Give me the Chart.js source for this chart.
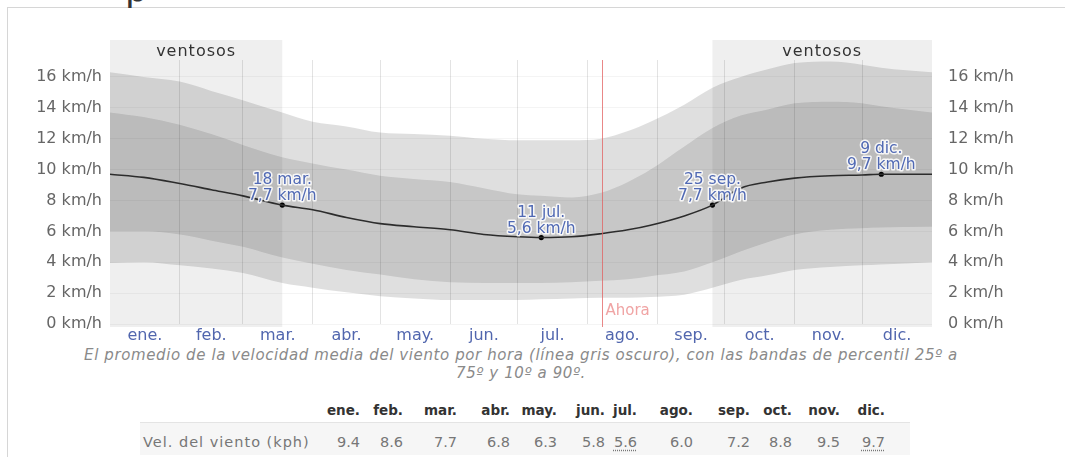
<!DOCTYPE html>
<html>
<head>
<meta charset="utf-8">
<script src="https://cdn.jsdelivr.net/npm/chart.js@4/dist/chart.umd.min.js"></script>
<style>
  html, body { margin:0; padding:0; background:#fff; }
  body { width:1065px; height:457px; position:relative; overflow:hidden; font-family:'DejaVu Sans', sans-serif; }
  #frame { position:absolute; left:7px; top:7px; right:-2px; bottom:-2px; border-left:1px solid #d6d6d6; border-top:1px solid #d6d6d6; }
  #cut { position:absolute; left:125px; top:-29.5px; font:36px/36px 'DejaVu Sans'; color:#333; }
  #c { position:absolute; left:0; top:0; }
  #caption { position:absolute; left:0; width:1042px; top:346px; text-align:center; font-style:italic; font-size:15px; letter-spacing:0.6px; line-height:18px; color:#8a8a8a; }
  .t { position:absolute; white-space:nowrap; line-height:18px; }
</style>
</head>
<body>
<div id="frame"></div>
<div id="cut">p</div>
<canvas id="c" width="1065" height="345"></canvas>
<div id="caption">El promedio de la velocidad media del viento por hora (línea gris oscuro), con las bandas de percentil 25º a<br>75º y 10º a 90º.</div>
<div id="tbl"></div>
<script>
// ---- data (day of year, km/h) ----
const days      = [0, 15, 31, 45, 59, 76.5, 90, 105, 120, 135, 151, 166, 181, 191.5, 205, 218, 230, 240, 255, 267.5, 280, 292, 304, 320, 334, 342.5, 365];
const p90       = [16.3, 16.0, 15.7, 15.1, 14.5, 13.7, 13.1, 12.8, 12.4, 12.3, 12.2, 12.0, 11.9, 11.9, 11.9, 12.0, 12.5, 13.1, 14.2, 15.3, 16.0, 16.5, 16.9, 17.0, 16.8, 16.6, 16.3];
const p75       = [13.7, 13.4, 12.9, 12.3, 11.6, 10.8, 10.4, 10.0, 9.6, 9.4, 9.2, 8.8, 8.4, 8.3, 8.2, 8.5, 9.2, 10.0, 11.5, 12.7, 13.5, 13.9, 14.3, 14.4, 14.3, 14.1, 13.7];
const meanSpeed = [9.7, 9.5, 9.1, 8.7, 8.3, 7.7, 7.4, 6.9, 6.5, 6.3, 6.1, 5.8, 5.65, 5.6, 5.65, 5.85, 6.1, 6.4, 7.0, 7.7, 8.8, 9.2, 9.45, 9.6, 9.65, 9.7, 9.7];
const p25       = [6.0, 6.0, 5.8, 5.4, 5.0, 4.3, 3.9, 3.5, 3.2, 2.9, 2.7, 2.65, 2.65, 2.65, 2.7, 2.8, 2.9, 3.1, 3.4, 4.0, 4.7, 5.3, 5.8, 6.1, 6.2, 6.25, 6.3];
const p10       = [3.95, 4.0, 3.8, 3.6, 3.3, 2.65, 2.35, 2.05, 1.8, 1.65, 1.55, 1.55, 1.55, 1.6, 1.65, 1.7, 1.7, 1.75, 1.9, 2.35, 2.85, 3.15, 3.5, 3.7, 3.8, 3.85, 4.0];

const monthLabels  = ['ene.','feb.','mar.','abr.','may.','jun.','jul.','ago.','sep.','oct.','nov.','dic.'];
const monthStarts  = [0, 31, 59, 90, 120, 151, 181, 212, 243, 273, 304, 334, 365];
const monthlyMean  = [9.4, 8.6, 7.7, 6.8, 6.3, 5.8, 5.6, 6.0, 7.2, 8.8, 9.5, 9.7];
const yTicks       = [0, 2, 4, 6, 8, 10, 12, 14, 16];
const windyPeriods = [[0, 76.5], [267.5, 365]];
const nowDay       = 218.5;
const hlDays       = [76.5, 191.5, 267.5, 342.5];
const hlValues     = [7.7, 5.6, 7.7, 9.7];
const hlDates      = ['18 mar.', '11 jul.', '25 sep.', '9 dic.'];
const rowLabel     = 'Vel. del viento (kph)';

// ---- layout (not data) ----
const colRight = [360, 403, 457, 510, 557, 605, 637, 693, 750, 792, 840, 885];

const pts = arr => days.map((d, i) => ({x: d, y: arr[i]}));
const mids = monthLabels.map((_, i) => (monthStarts[i] + monthStarts[i + 1]) / 2);
const bounds = monthStarts.slice(1, -1);
const FONT = "'DejaVu Sans'";

const deco = {
  id: 'deco',
  beforeDraw(chart) {
    const {ctx, chartArea: a, scales: {x}} = chart;
    ctx.save();
    windyPeriods.forEach(([s, e]) => {
      const x0 = x.getPixelForValue(s), x1 = x.getPixelForValue(e);
      ctx.fillStyle = 'rgba(0,0,0,0.062)';
      ctx.fillRect(x0, a.top - 20, x1 - x0, a.bottom + 3 - (a.top - 20));
      ctx.fillStyle = '#333';
      ctx.font = '16px ' + FONT;
      ctx.letterSpacing = '1px';
      ctx.textAlign = 'center';
      ctx.textBaseline = 'middle';
      ctx.fillText('ventosos', (x0 + x1) / 2, a.top - 8);
      ctx.letterSpacing = '0px';
    });
    ctx.restore();
  },
  afterDatasetsDraw(chart) {
    const {ctx, chartArea: a, scales: {x, y}} = chart;
    ctx.save();
    const nx = Math.round(x.getPixelForValue(nowDay)) + 0.5;
    ctx.strokeStyle = 'rgba(225,95,95,0.75)';
    ctx.lineWidth = 1;
    ctx.beginPath(); ctx.moveTo(nx, a.top); ctx.lineTo(nx, a.bottom + 3); ctx.stroke();
    ctx.fillStyle = '#f0a4a4';
    ctx.font = '15px ' + FONT;
    ctx.textAlign = 'left'; ctx.textBaseline = 'middle';
    ctx.fillText('Ahora', nx + 3, a.bottom - 13);

    ctx.font = '15.5px ' + FONT;
    ctx.textAlign = 'center';
    ctx.lineJoin = 'round';
    hlDays.forEach((d, i) => {
      const px = x.getPixelForValue(d), py = y.getPixelForValue(hlValues[i]);
      const lines = [hlDates[i], hlValues[i].toFixed(1).replace('.', ',') + ' km/h'];
      lines.forEach((t, j) => {
        const ty = py - 25 + j * 16;
        ctx.strokeStyle = 'rgba(255,255,255,0.85)';
        ctx.lineWidth = 3;
        ctx.strokeText(t, px, ty);
        ctx.fillStyle = '#5069b4';
        ctx.fillText(t, px, ty);
      });
    });
    ctx.restore();
  }
};

const band = (data, fill, color) => ({
  data: pts(data), fill: fill, backgroundColor: color || 'transparent',
  borderWidth: 0, borderColor: 'transparent', pointRadius: 0,
  cubicInterpolationMode: 'monotone'
});

new Chart(document.getElementById('c'), {
  type: 'line',
  data: {
    datasets: [
      band(p10, false),
      band(p90, '-1', 'rgba(0,0,0,0.125)'),
      band(p25, false),
      band(p75, '-1', 'rgba(0,0,0,0.11)'),
      { data: pts(meanSpeed), borderColor: '#3a3a3a', borderWidth: 1.6, pointRadius: 0,
        fill: false, cubicInterpolationMode: 'monotone' },
      { data: hlDays.map((d, i) => ({x: d, y: hlValues[i]})), showLine: false,
        pointRadius: 2.6, pointBackgroundColor: '#000', pointBorderWidth: 0 }
    ]
  },
  options: {
    responsive: false, animation: false, devicePixelRatio: 1,
    layout: { padding: { top: 60, left: 0, right: 0, bottom: 0 } },
    plugins: { legend: { display: false }, tooltip: { enabled: false } },
    scales: {
      x: {
        type: 'linear', min: 0, max: 365,
        afterBuildTicks: ax => { ax.ticks = [...bounds, ...mids].sort((a, b) => a - b).map(v => ({value: v})); },
        afterFit: s => { s.height = 21; },
        ticks: {
          autoSkip: false, maxRotation: 0, padding: 2, color: '#5166ae',
          font: { family: 'DejaVu Sans', size: 16 },
          callback: v => { const i = mids.indexOf(v); return i >= 0 ? monthLabels[i] : ''; }
        },
        grid: {
          drawTicks: false,
          color: c => (c.tick && bounds.includes(c.tick.value)) ? 'rgba(0,0,0,0.11)' : 'rgba(0,0,0,0)'
        },
        border: { display: false }
      },
      y: {
        position: 'left', min: 0, max: 17.1,
        afterBuildTicks: ax => { ax.ticks = yTicks.map(v => ({value: v})); },
        afterFit: s => { s.width = 110; },
        ticks: { padding: 8, color: '#666', font: { family: 'DejaVu Sans', size: 16 }, callback: v => v + ' km/h' },
        grid: { drawTicks: false, color: 'rgba(0,0,0,0.045)' },
        border: { display: false }
      },
      y2: {
        position: 'right', min: 0, max: 17.1,
        afterBuildTicks: ax => { ax.ticks = yTicks.map(v => ({value: v})); },
        afterFit: s => { s.width = 133; },
        ticks: { padding: 8, color: '#666', font: { family: 'DejaVu Sans', size: 16 }, callback: v => v + ' km/h' },
        grid: { display: false },
        border: { display: false }
      }
    }
  },
  plugins: [deco]
});

// ---- table ----
const tbl = document.getElementById('tbl');
function add(text, css) {
  const d = document.createElement('div');
  d.className = 't';
  d.textContent = text;
  Object.assign(d.style, css);
  tbl.appendChild(d);
  return d;
}
const bg = document.createElement('div');
Object.assign(bg.style, { position: 'absolute', left: '140px', top: '422px', width: '770px', height: '32px',
  background: '#f6f6f6', borderTop: '1px solid #e4e4e4' });
tbl.appendChild(bg);
add(rowLabel, { left: '143px', top: '433px', fontSize: '14.5px', letterSpacing: '1px', color: '#777' });
const mn = Math.min(...monthlyMean), mx = Math.max(...monthlyMean);
monthLabels.forEach((m, i) => {
  add(m, { right: (1065 - colRight[i]) + 'px', top: '401px', fontSize: '13.5px', fontWeight: 'bold', color: '#333' });
  const v = monthlyMean[i];
  const el = add(v.toFixed(1), { right: (1065 - colRight[i]) + 'px', top: '433px', fontSize: '14.5px', color: '#777' });
  if (v === mn || v === mx) { el.style.textDecoration = 'underline dotted'; el.style.textUnderlineOffset = '3px'; }
});
</script>
</body>
</html>
